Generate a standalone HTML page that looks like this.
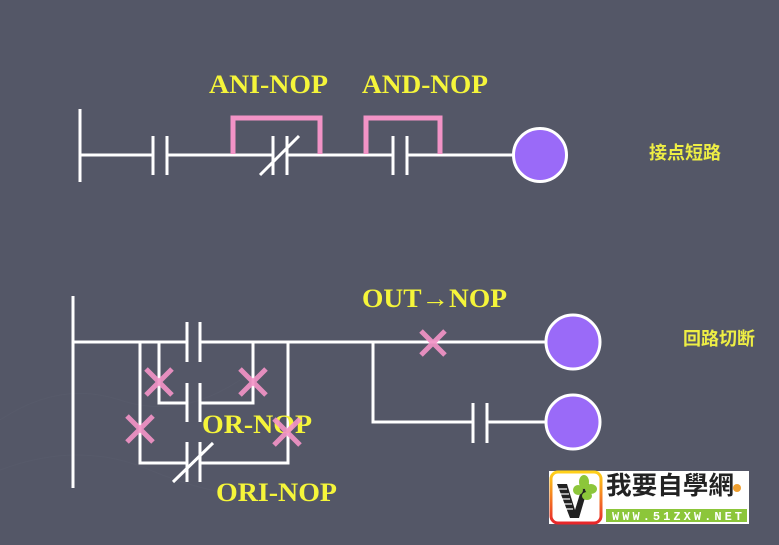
<!DOCTYPE html>
<html>
<head>
<meta charset="utf-8">
<style>
html,body{margin:0;padding:0;background:#545767;}
body{width:779px;height:545px;overflow:hidden;position:relative;}
svg{position:absolute;left:0;top:0;}
</style>
</head>
<body>
<svg width="779" height="545" viewBox="0 0 779 545" xmlns="http://www.w3.org/2000/svg">
  <rect x="0" y="0" width="779" height="545" fill="#545767"/>
  <!-- faint background texture lines -->
  <g stroke="#5a5d6d" stroke-width="1" fill="none" opacity="0.5">
    <path d="M0 420 Q60 380 120 400 T240 380"/>
    <path d="M0 470 Q80 440 150 470 T300 500"/>
  </g>

  <!-- ===== TOP RUNG ===== -->
  <g stroke="#ffffff" stroke-width="3" fill="none" stroke-linecap="butt">
    <line x1="80" y1="109" x2="80" y2="182"/>
    <line x1="80" y1="155" x2="153" y2="155"/>
    <line x1="153" y1="136" x2="153" y2="175"/>
    <line x1="167" y1="136" x2="167" y2="175"/>
    <line x1="167" y1="155" x2="273" y2="155"/>
    <line x1="273" y1="136" x2="273" y2="175"/>
    <line x1="287" y1="136" x2="287" y2="175"/>
    <line x1="260" y1="175" x2="299" y2="136"/>
    <line x1="287" y1="155" x2="393" y2="155"/>
    <line x1="393" y1="136" x2="393" y2="175"/>
    <line x1="407" y1="136" x2="407" y2="175"/>
    <line x1="407" y1="155" x2="513" y2="155"/>
  </g>
  <!-- pink brackets -->
  <g stroke="#f293c6" stroke-width="5" fill="none" stroke-linejoin="miter">
    <polyline points="233,154 233,118 320,118 320,154"/>
    <polyline points="366,154 366,118 440,118 440,154"/>
  </g>
  <circle cx="540" cy="155" r="26.5" fill="#9a6af8" stroke="#ffffff" stroke-width="3"/>

  <g font-family="'Liberation Serif', serif" font-weight="bold" font-size="26" fill="#f5f53a">
    <text x="209" y="93" textLength="119" lengthAdjust="spacingAndGlyphs">ANI-NOP</text>
    <text x="362" y="93" textLength="126" lengthAdjust="spacingAndGlyphs">AND-NOP</text>
  </g>
  <text x="649" y="159" font-family="'Liberation Sans','Noto Sans CJK SC',sans-serif" font-weight="bold" font-size="18" fill="#eeee44">接点短路</text>

  <!-- ===== BOTTOM RUNG ===== -->
  <g stroke="#ffffff" stroke-width="3" fill="none">
    <line x1="73" y1="296" x2="73" y2="488"/>
    <line x1="73" y1="342" x2="187" y2="342"/>
    <line x1="187" y1="322" x2="187" y2="362"/>
    <line x1="200" y1="322" x2="200" y2="362"/>
    <line x1="200" y1="342" x2="545" y2="342"/>
    <!-- outer branch -->
    <polyline points="140,342 140,463 187,463"/>
    <polyline points="200,463 288,463 288,342"/>
    <line x1="187" y1="442" x2="187" y2="482"/>
    <line x1="200" y1="442" x2="200" y2="482"/>
    <line x1="173" y1="482" x2="213" y2="443"/>
    <!-- inner branch -->
    <polyline points="159,342 159,403 187,403"/>
    <polyline points="200,403 253,403 253,342"/>
    <line x1="187" y1="383" x2="187" y2="422"/>
    <line x1="200" y1="383" x2="200" y2="422"/>
    <!-- right side -->
    <polyline points="373,342 373,422 473,422"/>
    <line x1="473" y1="403" x2="473" y2="443"/>
    <line x1="487" y1="403" x2="487" y2="443"/>
    <line x1="487" y1="422" x2="546" y2="422"/>
  </g>
  <circle cx="573" cy="342" r="27" fill="#9a6af8" stroke="#ffffff" stroke-width="3"/>
  <circle cx="573" cy="422" r="27" fill="#9a6af8" stroke="#ffffff" stroke-width="3"/>

  <g font-family="'Liberation Serif', serif" font-weight="bold" font-size="26" fill="#f5f53a">
    <text x="362" y="307" textLength="145" lengthAdjust="spacingAndGlyphs">OUT→NOP</text>
    <text x="202" y="433" textLength="110" lengthAdjust="spacingAndGlyphs">OR-NOP</text>
    <text x="216" y="501" textLength="121" lengthAdjust="spacingAndGlyphs">ORI-NOP</text>
  </g>

  <!-- pink X marks -->
  <g stroke="#f293c6" stroke-width="5" stroke-linecap="butt" opacity="0.92">
    <path d="M146 369 L172 395 M172 369 L146 395"/>
    <path d="M240 369 L266 395 M266 369 L240 395"/>
    <path d="M127 416 L153 442 M153 416 L127 442"/>
    <path d="M274 419 L300 445 M300 419 L274 445"/>
    <path d="M421 331 L445 355 M445 331 L421 355"/>
  </g>

  <text x="683" y="345" font-family="'Liberation Sans','Noto Sans CJK SC',sans-serif" font-weight="bold" font-size="18" fill="#eeee44">回路切断</text>

  <!-- ===== LOGO ===== -->
  <defs>
    <linearGradient id="lg" x1="0" y1="0" x2="0" y2="1">
      <stop offset="0" stop-color="#ffd21a"/>
      <stop offset="1" stop-color="#e8262a"/>
    </linearGradient>
  </defs>
  <rect x="549" y="471" width="200" height="53" fill="#ffffff"/>
  <rect x="551" y="472" width="50" height="51" rx="7" fill="#ffffff" stroke="url(#lg)" stroke-width="3"/>
  <!-- V icon -->
  <path d="M557 484 L567 484 L575 510 L583 484 L589 484 L579 518 L570 518 Z" fill="#222"/>
  <g stroke="#ffffff" stroke-width="1.2">
    <line x1="559" y1="489" x2="567" y2="489"/>
    <line x1="560" y1="494" x2="569" y2="494"/>
    <line x1="562" y1="499" x2="570" y2="499"/>
    <line x1="563" y1="504" x2="572" y2="504"/>
    <line x1="565" y1="509" x2="573" y2="509"/>
  </g>
  <g fill="#8cc63a">
    <ellipse cx="584" cy="482" rx="5" ry="7"/>
    <ellipse cx="591" cy="489" rx="6" ry="5"/>
    <ellipse cx="578" cy="490" rx="5" ry="5"/>
    <ellipse cx="587" cy="496" rx="5" ry="4"/>
  </g>
  <text x="606" y="494" font-family="'Liberation Sans','Noto Sans CJK TC',sans-serif" font-weight="bold" font-size="25" fill="#222" textLength="128" lengthAdjust="spacingAndGlyphs">我要自學網</text>
  <circle cx="737" cy="488" r="4" fill="#f0a030"/>
  <rect x="606" y="509" width="141" height="13" fill="#8cc63a"/>
  <text x="612" y="520" font-family="'Liberation Mono',monospace" font-weight="bold" font-size="12" fill="#ffffff" textLength="130" lengthAdjust="spacing">WWW.51ZXW.NET</text>
</svg>
</body>
</html>
